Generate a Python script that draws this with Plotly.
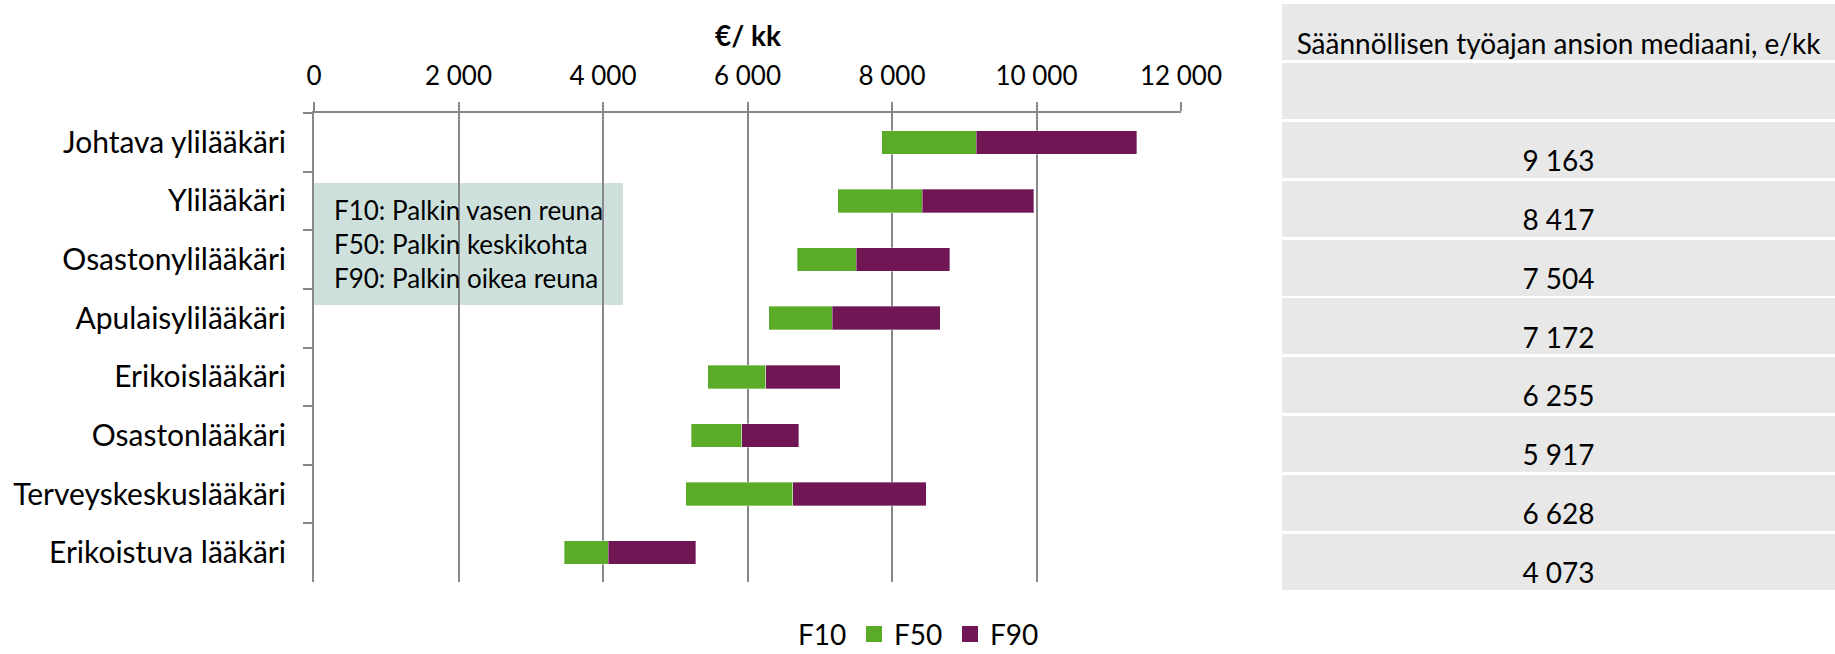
import plotly.graph_objects as go

# ---------------- data ----------------
categories = ["Johtava ylilääkäri", "Ylilääkäri", "Osastonylilääkäri", "Apulaisylilääkäri",
              "Erikoislääkäri", "Osastonlääkäri", "Terveyskeskuslääkäri", "Erikoistuva lääkäri"]
f10 = [7855, 7249, 6686, 6291, 5450, 5221, 5147, 3462]
f50 = [9163, 8417, 7504, 7172, 6255, 5917, 6628, 4073]
f90 = [11385, 9963, 8800, 8671, 7286, 6711, 8473, 5283]
series_names = ["F10", "F50", "F90"]
x_tick_values = [0, 2000, 4000, 6000, 8000, 10000, 12000]
axis_title = "€/ kk"
note_lines = ["F10: Palkin vasen reuna", "F50: Palkin keskikohta", "F90: Palkin oikea reuna"]
table_header = "Säännöllisen työajan ansion mediaani, e/kk"
table_medians = [9163, 8417, 7504, 7172, 6255, 5917, 6628, 4073]

# ---------------- style ----------------
FONT = "Lato, Carlito, Calibri, sans-serif"
GREEN = "#5aab28"
PURPLE = "#711655"
CLEAR = "rgba(0,0,0,0)"
AXIS = "#898989"
NOTE_BG = "#cde0dc"
CELL_BG = "#e7e8e7"
W, H = 1835, 654
series_colors = [CLEAR, GREEN, PURPLE]

fig = go.Figure()

# stacked horizontal bars: invisible F10 offset, then F50 and F90 segments
segments = [f10,
            [b - a for a, b in zip(f10, f50)],
            [c - b for b, c in zip(f50, f90)]]
for name, seg, col in zip(series_names, segments, series_colors):
    line = dict(width=0) if col == CLEAR else dict(color="rgba(255,255,255,0.35)", width=1)
    fig.add_trace(go.Bar(
        y=categories, x=seg, orientation="h", name=name, legendgroup=name,
        marker=dict(color=col, line=line), showlegend=False, hoverinfo="skip"))
    # legend entry with a larger square swatch
    fig.add_trace(go.Scatter(
        x=[None], y=[None], mode="markers", name=name, legendgroup=name,
        marker=dict(symbol="square", size=18, color=col, line=dict(width=0)),
        showlegend=True, hoverinfo="skip"))

# ---------------- right-hand table (as a second subplot) ----------------
table_rows = [table_header, ""] + [f"{v:,}".replace(",", " ") for v in table_medians]
n_rows = len(table_rows)
fig.add_trace(go.Bar(
    x=[1] * n_rows, y=list(range(n_rows)), base=0, width=0.95, orientation="h",
    marker=dict(color=CELL_BG, line=dict(width=0)),
    xaxis="x2", yaxis="y2", showlegend=False, hoverinfo="skip"))
fig.add_trace(go.Scatter(
    x=[0.5] * n_rows, y=[i + 0.24 for i in range(n_rows)], text=table_rows,
    mode="text", textposition="middle center", cliponaxis=False,
    textfont=dict(family=FONT, size=28, color="#000000"),
    xaxis="x2", yaxis="y2", showlegend=False, hoverinfo="skip"))

# ---------------- layout ----------------
px_x = lambda p: p / W
px_y = lambda p: 1 - p / H

fig.update_layout(
    width=W, height=H, autosize=False,
    margin=dict(l=0, r=0, t=0, b=0, pad=0, autoexpand=False),
    paper_bgcolor="white", plot_bgcolor="white",
    barmode="stack", bargap=0.6,
    separators=", ",
    font=dict(family=FONT, size=26, color="#000000"),
    title=dict(text=f"<b>{axis_title}</b>", x=px_x(748), y=px_y(36),
               xref="container", yref="container", xanchor="center", yanchor="middle",
               font=dict(family=FONT, size=28, color="#000000")),
    xaxis=dict(
        domain=[px_x(314), px_x(1181)], side="top", range=[0, 12000],
        tickvals=x_tick_values, tickformat=",d", automargin=False,
        showgrid=True, gridcolor=AXIS, gridwidth=2, zeroline=False,
        showline=True, linecolor=AXIS, linewidth=2,
        ticks="outside", ticklen=9, tickwidth=2, tickcolor=AXIS,
        ticklabelstandoff=7,
        tickfont=dict(family=FONT, size=26, color="#000000"),
        fixedrange=True),
    yaxis=dict(
        domain=[px_y(582), px_y(113)], type="category",
        categoryorder="array", categoryarray=categories,
        range=[len(categories) - 0.5, -0.5], automargin=False,
        showgrid=False, zeroline=False,
        showline=True, linecolor=AXIS, linewidth=2,
        ticks="outside", ticklen=9, tickwidth=2, tickcolor=AXIS, tickson="boundaries",
        ticklabelstandoff=20,
        tickfont=dict(family=FONT, size=30, color="#000000"),
        fixedrange=True),
    xaxis2=dict(domain=[px_x(1282), 1.0], range=[0, 1], visible=False,
                automargin=False, fixedrange=True),
    yaxis2=dict(domain=[px_y(591), px_y(3)], range=[n_rows - 0.5, -0.5],
                visible=False, automargin=False, fixedrange=True),
    legend=dict(orientation="h", x=px_x(758), xanchor="left", y=-0.008, yanchor="bottom",
                font=dict(family=FONT, size=28, color="#000000"),
                entrywidth=51, entrywidthmode="pixels", itemsizing="trace",
                bgcolor="rgba(0,0,0,0)", traceorder="normal"),
    showlegend=True,
)

# explanatory note box inside the plot
fig.add_shape(type="rect", xref="x", yref="y", x0=0, x1=4276, y0=0.695, y1=2.776,
              fillcolor=NOTE_BG, line=dict(width=0), layer="below")
fig.add_annotation(xref="x", yref="y", x=0, y=1.735, xanchor="left", yanchor="middle",
                   xshift=18, align="left", showarrow=False,
                   text="<br>".join(note_lines),
                   font=dict(family=FONT, size=26, color="#000000"))

post = ("document.documentElement.style.margin='0';"
        "document.body.style.margin='0';document.body.style.padding='0';"
        "document.body.style.overflow='hidden';"
        "var gd=document.getElementById('{plot_id}');"
        "gd.style.width='1835px';gd.style.height='654px';"
        "Plotly.relayout(gd,{width:1835,height:654});")

fig.write_html("out.html", post_script=post,
               config={"responsive": False, "displayModeBar": False, "staticPlot": True})
